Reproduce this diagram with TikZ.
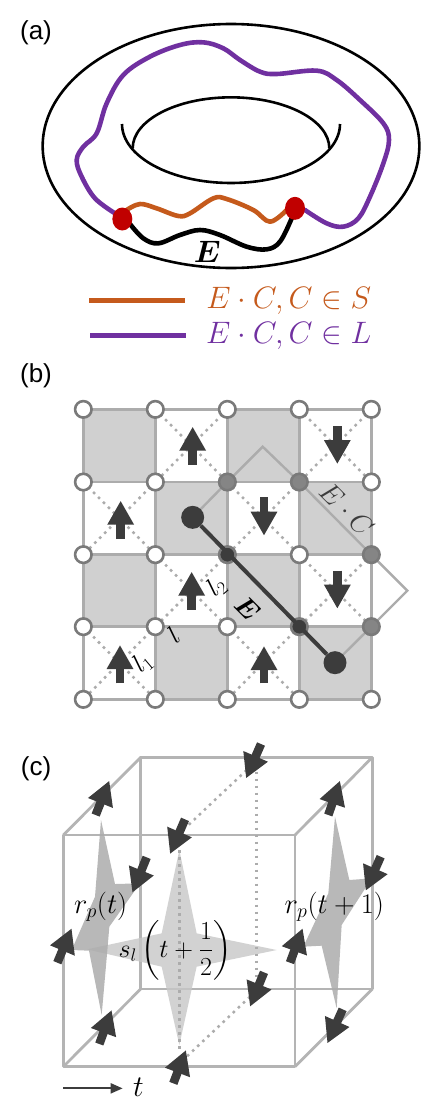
\RequirePackage{fix-cm}
\documentclass[tikz,border=0pt]{standalone}
\usepackage{amsmath}
\usepackage{fontspec}
\setmainfont{Liberation Sans}
\usetikzlibrary{arrows.meta,shapes.geometric}
\definecolor{orangeC}{HTML}{C55A1C}
\definecolor{purpleC}{HTML}{7030A0}
\definecolor{redC}{HTML}{C00000}
\definecolor{darkC}{HTML}{3C3C3C}
\definecolor{edgeC}{HTML}{ACACAC}
\definecolor{ringC}{HTML}{7A7A7A}
\definecolor{cellC}{HTML}{D0D0D0}
\definecolor{cubeC}{HTML}{B4B4B4}
\tikzset{
  paneltag/.style={font=\fontsize{26}{30}\selectfont,inner sep=0pt,text=black},
  torus/.style={draw=black,line width=2.6pt},
  wavy/.style={line width=4.6pt,line cap=round,line join=round},
  reddot/.style={ellipse,fill=redC,inner sep=0pt,minimum width=20pt,minimum height=23pt},
  gridline/.style={draw=edgeC,line width=2.4pt},
  dotline/.style={draw=edgeC,line width=2.5pt,dash pattern=on 2.6pt off 4.4pt},
  openv/.style={circle,draw=ringC,fill=white,line width=2.6pt,minimum size=16.5pt,inner sep=0pt},
  greyv/.style={circle,draw=ringC,fill=ringC!92!white,line width=2.6pt,minimum size=16.5pt,inner sep=0pt},
  darkv/.style={circle,draw=ringC,fill=darkC,line width=2.6pt,minimum size=16.5pt,inner sep=0pt},
  endv/.style={circle,fill=darkC,minimum size=23pt,inner sep=0pt},
  bigarrow/.style={draw=darkC,line width=8.6pt,-{Triangle[length=24pt,width=25pt]}},
  cubeedge/.style={draw=cubeC,line width=2.8pt,line join=round},
  bmath/.style={text=black,inner sep=0pt},
}
\begin{document}
\begin{tikzpicture}[x=0.33333pt,y=-0.33333pt]
\useasboundingbox (0,0) rectangle (1293,3312);
%% ---------- (a) ----------
\node[paneltag] (taga) at (108,97) {(a)};
\draw[torus] (693,438) ellipse [x radius=565,y radius=366];
\draw[torus] (366,372) arc[start angle=180,end angle=0,x radius=327,y radius=177];
\draw[torus] (398,445) arc[start angle=180,end angle=360,x radius=295,y radius=153];
\draw[wavy,draw=purpleC] plot[smooth,tension=.6] coordinates {(345,640) (285,595) (245,530) (230,480) (250,440) (290,400) (320,310) (370,225) (450,170) (540,135) (610,127) (670,145) (720,180) (780,215) (830,222) (950,212) (1010,240) (1080,300) (1150,370) (1167,420) (1150,490) (1110,590) (1075,655) (1030,680) (980,670) (915,630)};
\draw[wavy,draw=orangeC] plot[smooth,tension=.6] coordinates {(380,630) (420,612) (470,625) (535,648) (570,640) (640,595) (680,597) (760,630) (810,665) (860,630)};
\draw[wavy,draw=black] plot[smooth,tension=.6] coordinates {(390,672) (430,715) (475,730) (540,705) (600,690) (660,705) (740,740) (800,748) (840,725) (875,655)};
\node[reddot] (ra) at (367,657) {};
\node[reddot] (rb) at (885,625) {};
\node[bmath] (Ea) at (622,755) {\fontsize{31}{34}\selectfont$\boldsymbol{E}$};
\coordinate (l1a) at (268,902); \coordinate (l1b) at (555,902);
\coordinate (l2a) at (270,1005); \coordinate (l2b) at (558,1005);
\draw[line width=5pt,draw=orangeC] (l1a) -- (l1b);
\draw[line width=5pt,draw=purpleC] (l2a) -- (l2b);
\node[text=orangeC,inner sep=0pt] (lega) at (866,902) {\fontsize{31}{34}\selectfont$E\cdot C,C\in S$};
\node[text=purpleC,inner sep=0pt] (legb) at (866,1007) {\fontsize{31}{34}\selectfont$E\cdot C,C\in L$};
%% ---------- (b) ----------
\begin{scope}[yshift=-360pt]
\node[paneltag] (tagb) at (108,47) {(b)};
\foreach \i/\x in {0/250,1/466,2/682,3/898,4/1114}
  \foreach \j/\y in {0/148,1/366,2/584,3/800,4/1018}
    \coordinate (c\i\j) at (\x,\y);
% shaded cells
\foreach \i/\j/\k/\m in {0/0/1/1,2/0/3/1,1/1/2/2,3/1/4/2,0/2/1/3,2/2/3/3,1/3/2/4,3/3/4/4}
  \fill[cellC] (c\i\j) rectangle (c\k\m);
% lattice edges
\foreach \a/\b in {0/1,1/2,2/3,3/4}
  \foreach \j in {0,1,2,3,4}{
    \draw[gridline] (c\a\j) -- (c\b\j);
    \draw[gridline] (c\j\a) -- (c\j\b);
  }
% dotted diagonals in the white cells
\foreach \i/\j/\k/\m in {1/0/2/1,3/0/4/1,0/1/1/2,2/1/3/2,1/2/2/3,3/2/4/3,0/3/1/4,2/3/3/4}{
  \draw[dotline] (c\i\j) -- (c\k\m);
  \draw[dotline] (c\k\j) -- (c\i\m);
}
% E.C loop
\coordinate (ea) at (578,472); \coordinate (eb) at (1005,908);
\coordinate (pk1) at (788,260); \coordinate (pk2) at (1222,692);
\draw[gridline,line join=miter] (ea) -- (c21) -- (pk1) -- (c31) -- (c42) -- (pk2) -- (c43) -- (eb);
% vertices
\foreach \i/\j in {0/0,1/0,2/0,3/0,4/0,0/1,1/1,4/1,0/2,1/2,3/2,0/3,1/3,2/3,0/4,1/4,2/4,3/4,4/4}
  \node[openv] (v\i\j) at (c\i\j) {};
\foreach \i/\j in {2/1,3/1,4/2,4/3}
  \node[greyv] (v\i\j) at (c\i\j) {};
\foreach \i/\j in {2/2,3/3}
  \node[darkv] (v\i\j) at (c\i\j) {};
\node[endv] (na) at (ea) {};
\node[endv] (nb) at (eb) {};
\draw[draw=darkC,line width=4pt] (na) -- (nb);
% arrows
\foreach \x/\a/\b in {578/314/200,362/537/422,575/750/635,360/970/855,792/970/858,1012/198/312,792/412/527,1012/632/746}
  \draw[bigarrow] (\x,\a) -- (\x,\b);
% labels
\node[bmath,rotate=-45] (lE) at (742,745) {\fontsize{27}{30}\selectfont$\boldsymbol{E}$};
\node[bmath,rotate=-45,text=darkC] (lEC) at (1040,448) {\fontsize{28}{31}\selectfont$E\cdot C$};
\node[bmath,rotate=40] (ll) at (520,825) {\fontsize{26}{28}\selectfont$l$};
\node[bmath,rotate=40] (ll1) at (428,908) {\fontsize{26}{28}\selectfont$l_1$};
\node[bmath,rotate=40] (ll2) at (650,680) {\fontsize{26}{28}\selectfont$l_2$};
\end{scope}
%% ---------- (c) ----------
\begin{scope}[yshift=-740pt]
\node[paneltag] (tagc) at (108,87) {(c)};
\coordinate (f1) at (190,285); \coordinate (f2) at (885,285);
\coordinate (f3) at (885,980); \coordinate (f4) at (190,980);
\coordinate (b1) at (422,52); \coordinate (b2) at (1117,52);
\coordinate (b3) at (1117,747); \coordinate (b4) at (422,747);
\draw[cubeedge] (b1) -- (b2) -- (b3) -- (b4) -- cycle;
\draw[cubeedge] (f1) -- (b1) (f2) -- (b2) (f3) -- (b3) (f4) -- (b4);
\draw[cubeedge] (f1) -- (f2) -- (f3) -- (f4) -- cycle;
% stars
\fill[black!22,opacity=.8] (538,330) -- (590,580) -- (830,630) -- (590,680) -- (538,915) -- (485,680) -- (262,628) -- (485,580) -- cycle;
\fill[black!33,opacity=.85] (303,240) -- (345,432) -- (420,430) -- (328,560) -- (323,620) -- (305,825) -- (267,632) -- (215,630) -- (285,470) -- cycle;
\fill[black!33,opacity=.85] (1005,230) -- (1048,420) -- (1115,415) -- (1025,555) -- (1010,805) -- (965,617) -- (910,620) -- (985,460) -- cycle;
% dotted
\coordinate (d1) at (740,90); \coordinate (d2) at (560,260);
\coordinate (d3) at (770,95); \coordinate (d4) at (770,715);
\coordinate (d5) at (538,330); \coordinate (d6) at (538,935);
\coordinate (d7) at (750,770); \coordinate (d8) at (560,950);
\draw[dotline] (d1) -- (d2);
\draw[dotline] (d3) -- (d4);
\draw[dotline] (d5) -- (d6);
\draw[dotline] (d7) -- (d8);
% arrows
\foreach \a/\b/\c/\d in {783/12/738/115, 555/238/510/342, 440/352/397/458, 1142/350/1097/452, 287/225/328/122, 985/225/1020/122, 172/668/215/565, 870/668/908/565, 792/697/750/800, 298/912/335/810, 1028/808/982/910, 520/1030/558/930}
  \draw[bigarrow] (\a,\b) -- (\c,\d);
% labels
\node[bmath] (rp1) at (302,500) {\fontsize{28.5}{32}\selectfont$r_p(t)$};
\node[bmath] (rp2) at (1003,500) {\fontsize{28.5}{32}\selectfont$r_p(t+1)$};
\node[bmath] (sl) at (525,632) {\fontsize{26}{30}\selectfont$s_l\left(t+\dfrac{1}{2}\right)$};
\coordinate (ta) at (190,1045); \coordinate (tb) at (368,1045);
\draw[draw=darkC,line width=2pt,-{Triangle[length=12pt,width=10pt]}] (ta) -- (tb);
\node[bmath] (tl) at (415,1042) {\fontsize{30}{32}\selectfont$t$};
\end{scope}
\end{tikzpicture}
\end{document}
